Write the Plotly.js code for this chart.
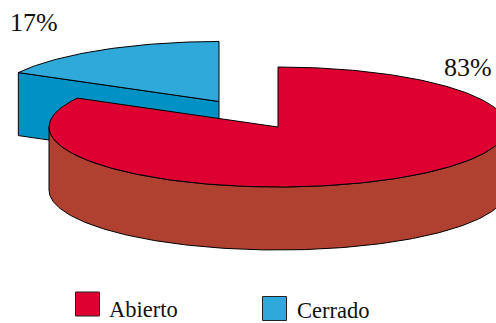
<!DOCTYPE html>
<html>
<head>
<meta charset="utf-8">
<script src="https://cdn.plot.ly/plotly-3.0.1.min.js"></script>
<style>html,body{margin:0;padding:0;background:#fff}#chart{width:496px;height:323px}</style>
</head>
<body>
<div id="chart"></div>
<script>
// Estado del conducto: porcentajes por categoría
const categories = ['Abierto', 'Cerrado'];
const shares = [83, 17];
const shareLabels = ['83%', '17%'];

const topColors = ['#DE0030', '#2FA9D9'];
const sideColors = ['#B04030', '#0091C5'];

// Proyección de la tarta en perspectiva, en unidades del eje
const radiusX = 229, radiusY = 60, depth = 63;
const redCentre = [278, 127];
const blueCentre = [219, 101.5];
const total = shares.reduce((a, b) => a + b, 0);
const sweepRed = shares[0] / total * 360;

function rim(c, deg, drop) {
  const r = deg * Math.PI / 180;
  return [c[0] + radiusX * Math.sin(r), c[1] - radiusY * Math.cos(r) + (drop || 0)];
}
function arc(c, from, to, drop) {
  const pts = [], n = Math.max(2, Math.round(Math.abs(to - from)));
  for (let i = 0; i <= n; i++) pts.push(rim(c, from + (to - from) * i / n, drop));
  return pts;
}
function poly(pts, color) {
  const closed = pts.concat([pts[0]]);
  return {
    type: 'scatter', mode: 'lines', fill: 'toself', fillcolor: color,
    x: closed.map(p => p[0]), y: closed.map(p => p[1]),
    line: {color: '#000', width: 1}, hoverinfo: 'skip', showlegend: false
  };
}

// Tajada desplazada (Cerrado): cara de corte y tapa
const blueCorner = rim(blueCentre, sweepRed);
const blueFace = poly([blueCorner, blueCentre,
  [blueCentre[0], blueCentre[1] + depth], [blueCorner[0], blueCorner[1] + depth]], sideColors[1]);
const blueTop = poly(arc(blueCentre, sweepRed, 360).concat([blueCentre]), topColors[1]);

// Tajada principal (Abierto): pared curva y tapa
const redWall = poly(arc(redCentre, 90, 270).concat(arc(redCentre, 270, 90, depth)), sideColors[0]);
const redTop = poly(arc(redCentre, 0, sweepRed).concat([redCentre]), topColors[0]);

// Muestras de la leyenda
const swatchAt = [[87.5, 304], [274.5, 308.5]];
const swatches = categories.map((name, i) => ({
  type: 'scatter', mode: 'markers', name,
  x: [swatchAt[i][0]], y: [swatchAt[i][1]],
  marker: {symbol: 'square', size: 24, color: topColors[i], line: {color: '#222', width: 1}},
  hoverinfo: 'skip', showlegend: false
}));

const serif = 'Liberation Serif, serif';
const note = (text, x, y, size) => ({
  text, x, y, xref: 'x', yref: 'y', xanchor: 'left', yanchor: 'middle',
  showarrow: false, borderpad: 0, font: {family: serif, size, color: '#111'}
});

const layout = {
  width: 496, height: 323, margin: {l: 0, r: 0, t: 0, b: 0},
  paper_bgcolor: '#fff', plot_bgcolor: '#fff', showlegend: false,
  xaxis: {range: [0, 496], visible: false, fixedrange: true},
  yaxis: {range: [323, 0], visible: false, fixedrange: true},
  annotations: [
    note(shareLabels[0], 443, 67.5, 26),
    note(shareLabels[1], 9, 22, 26),
    note(categories[0], 108, 309.5, 22.5),
    note(categories[1], 296, 310, 22.5)
  ]
};

Plotly.newPlot('chart', [blueFace, blueTop, redWall, redTop].concat(swatches), layout,
  {displayModeBar: false, staticPlot: true});
</script>
</body>
</html>
